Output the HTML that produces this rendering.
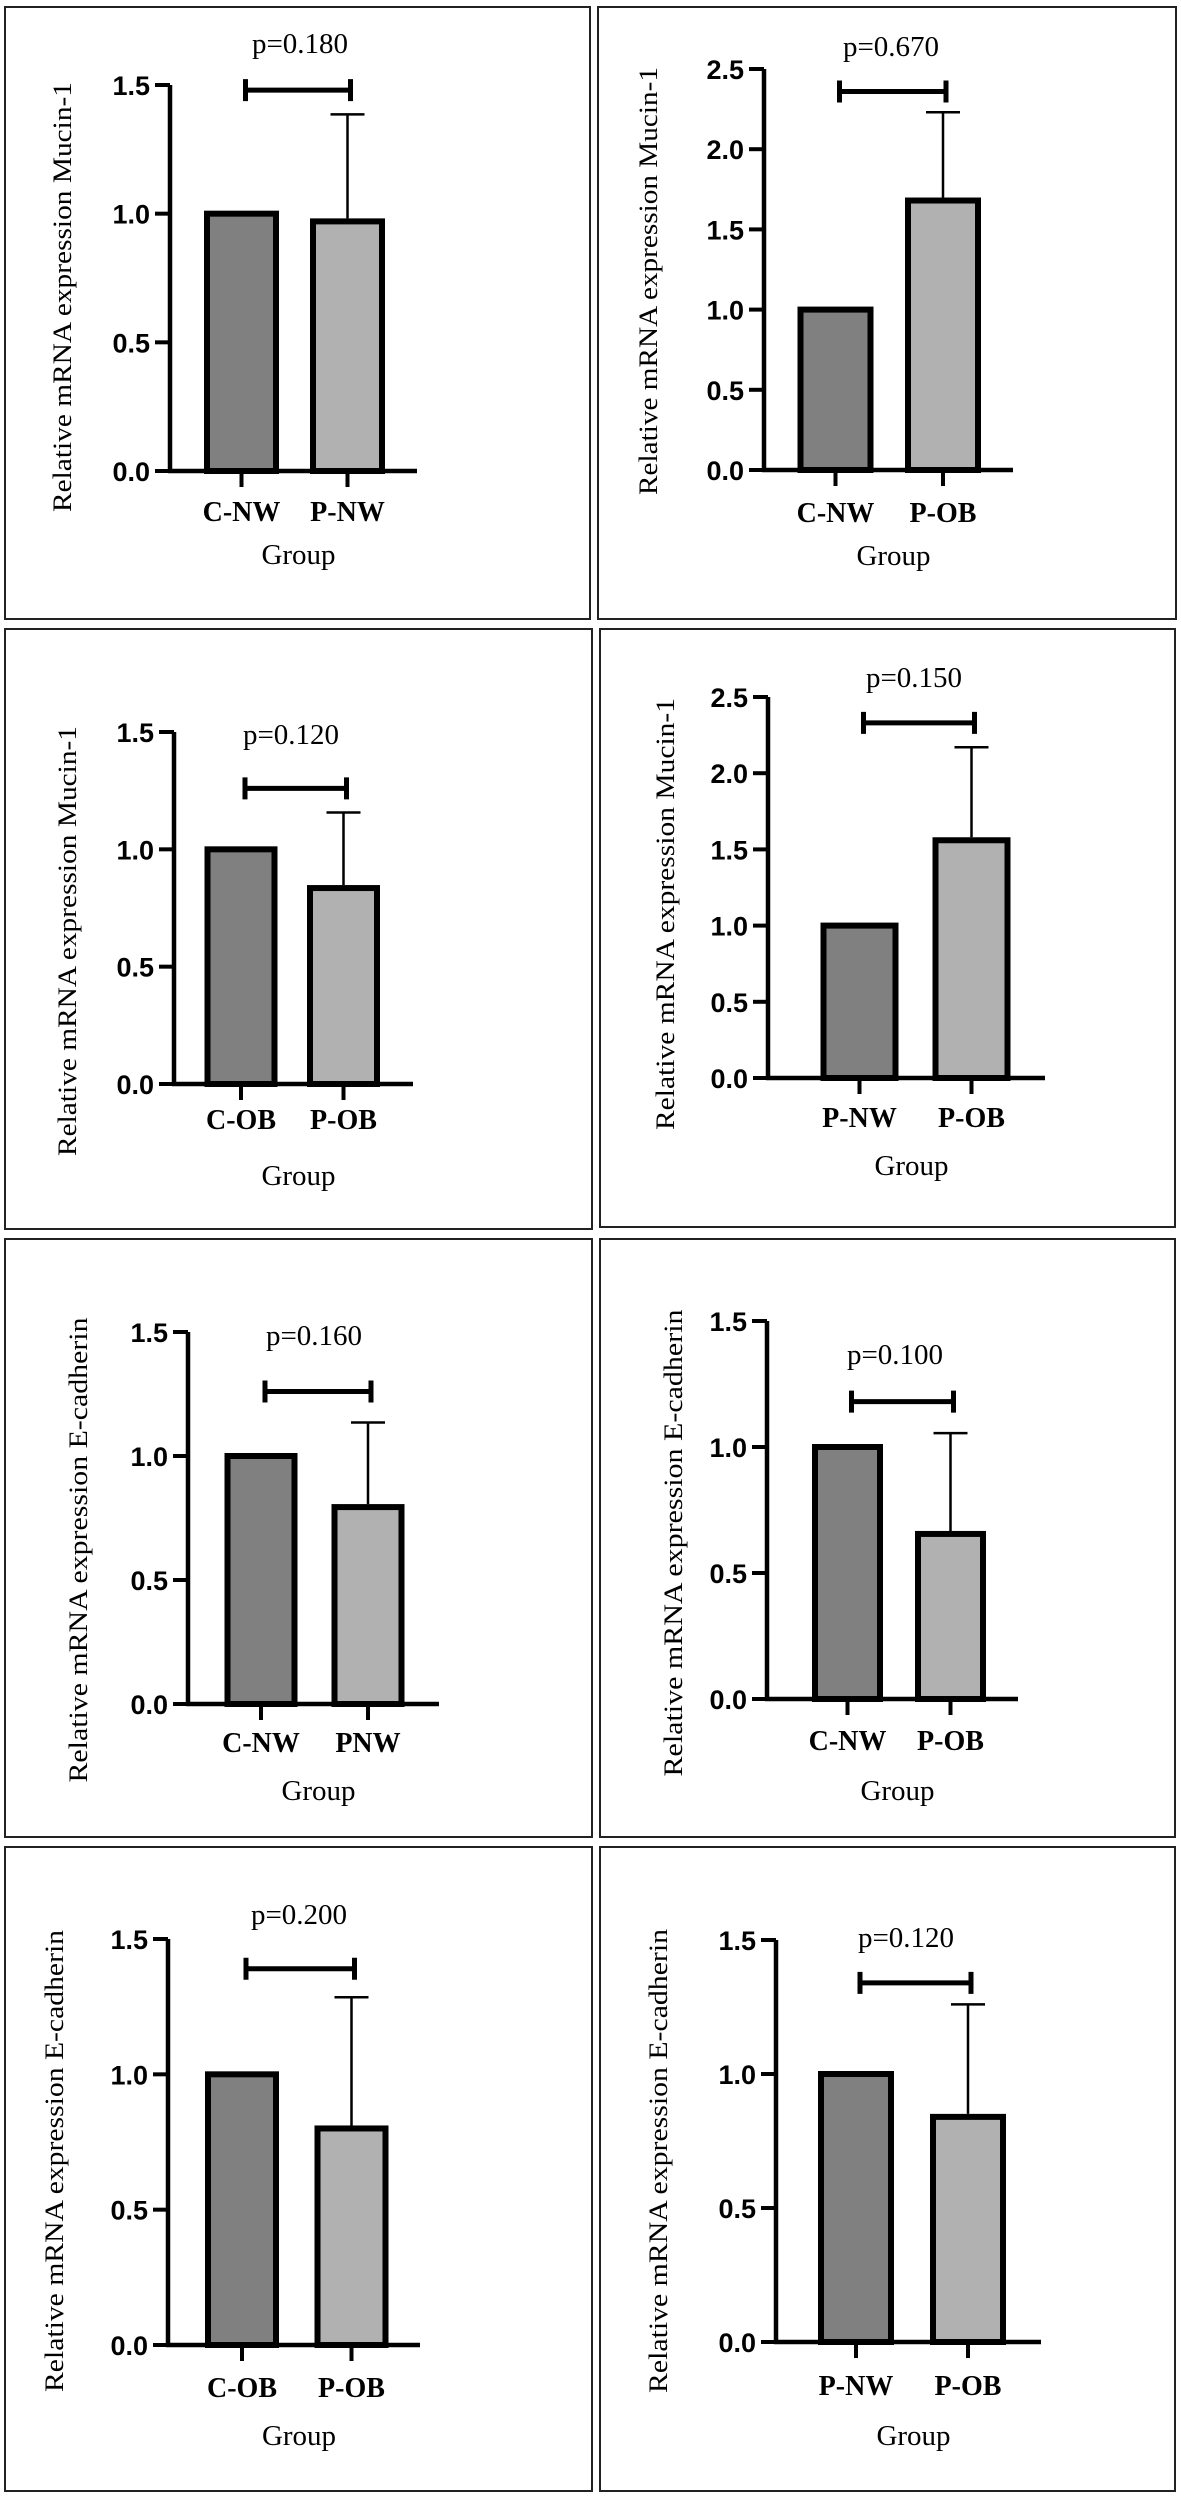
<!DOCTYPE html>
<html><head><meta charset="utf-8"><style>
html,body{margin:0;padding:0;background:#fff;}
svg{display:block;}
.tick{font-family:"Liberation Sans",sans-serif;font-weight:bold;font-size:27px;}
.cat{font-family:"Liberation Serif",serif;font-weight:bold;font-size:28px;}
.ser{font-family:"Liberation Serif",serif;font-size:29px;}
.yl{font-family:"Liberation Serif",serif;font-size:26px;}
</style></head><body>
<svg id="fig" width="1181" height="2497" viewBox="0 0 1181 2497" xmlns="http://www.w3.org/2000/svg"></svg>
<script>
// ---- data ----
const categories = [["C-NW","P-NW"],["C-NW","P-OB"],["C-OB","P-OB"],["P-NW","P-OB"],["C-NW","PNW"],["C-NW","P-OB"],["C-OB","P-OB"],["P-NW","P-OB"]];
const meansA = [1,1,1,1,1,1,1,1];
const meansB = [0.97,1.68,0.835,1.56,0.794,0.655,0.80,0.84];
const errorsB = [0.416,0.55,0.322,0.61,0.341,0.40,0.485,0.42];
const pValues = ["p=0.180","p=0.670","p=0.120","p=0.150","p=0.160","p=0.100","p=0.200","p=0.120"];
const yMaxes = [1.5,2.5,1.5,2.5,1.5,1.5,1.5,1.5];
const sigLevels = [1.48,2.36,1.26,2.33,1.26,1.18,1.39,1.34];
const yTitles = ["Relative mRNA expression Mucin-1","Relative mRNA expression Mucin-1","Relative mRNA expression Mucin-1","Relative mRNA expression Mucin-1","Relative mRNA expression E-cadherin","Relative mRNA expression E-cadherin","Relative mRNA expression E-cadherin","Relative mRNA expression E-cadherin"];

// ---- layout (pixels) ----
const layout = [
 {box:[5,7,585,612], ax:170, y0:471, yTop:85, xEnd:417, c:[241.5,347.5], bw:69, pX:300, pY:53, catY:521, gY:564, ylX:63, ylY:297, ylL:430},
 {box:[598,7,578,612], ax:764, y0:470, yTop:69, xEnd:1013, c:[835.5,943], bw:70, pX:891, pY:56, catY:522, gY:565, ylX:649, ylY:281, ylL:428},
 {box:[5,629,587,600], ax:174, y0:1084, yTop:732, xEnd:413, c:[241,343.5], bw:67, pX:291, pY:744, catY:1129, gY:1185, ylX:68, ylY:941, ylL:430},
 {box:[600,629,575,598], ax:768, y0:1078, yTop:697, xEnd:1045, c:[859.5,971.5], bw:72, pX:914, pY:687, catY:1127, gY:1175, ylX:666, ylY:914, ylL:432},
 {box:[5,1239,587,598], ax:188, y0:1704, yTop:1332, xEnd:439, c:[261,368], bw:67, pX:314, pY:1345, catY:1752, gY:1800, ylX:79, ylY:1550, ylL:465},
 {box:[600,1239,575,598], ax:767, y0:1699, yTop:1321, xEnd:1018, c:[847.5,950.5], bw:65, pX:895, pY:1364, catY:1750, gY:1800, ylX:674, ylY:1543, ylL:467},
 {box:[5,1847,587,644], ax:168, y0:2345, yTop:1939, xEnd:420, c:[242,351.5], bw:68, pX:299, pY:1924, catY:2397, gY:2445, ylX:55, ylY:2161, ylL:462},
 {box:[600,1847,575,644], ax:776, y0:2342, yTop:1940, xEnd:1041, c:[856,968], bw:70, pX:906, pY:1947, catY:2395, gY:2445, ylX:659, ylY:2161, ylL:464}
];

const NS = "http://www.w3.org/2000/svg";
const svg = document.getElementById("fig");
function mk(parent, tag, attrs, text){
  const e = document.createElementNS(NS, tag);
  for (const k in attrs) e.setAttribute(k, attrs[k]);
  if (text !== undefined) e.textContent = text;
  parent.appendChild(e);
  return e;
}

for (let i = 0; i < layout.length; i++){
  const L = layout[i];
  const yMax = yMaxes[i];
  const y = v => L.y0 - (v / yMax) * (L.y0 - L.yTop);
  const g = mk(svg, "g", {});
  
  

  const box = mk(g, "rect", {x:L.box[0], y:L.box[1], width:L.box[2], height:L.box[3], fill:"none", stroke:"#222", "stroke-width":2});
  
  

  const vals = [meansA[i], meansB[i]];
  const fills = ["#808080", "#b1b1b1"];
  for (let j = 0; j < 2; j++){
    const top = y(vals[j]);
    const b = mk(g, "rect", {x:L.c[j]-L.bw/2, y:top, width:L.bw, height:L.y0-top, fill:fills[j], stroke:"#000", "stroke-width":6});
    
    
  }
  const eTop = y(meansB[i] + errorsB[i]);
  const eb = mk(g, "path", {d:`M${L.c[1]} ${y(meansB[i])-3} V${eTop} M${L.c[1]-17} ${eTop} H${L.c[1]+17}`, stroke:"#000", "stroke-width":2.5, fill:"none"});
  
  

  const axes = mk(g, "path", {d:`M${L.ax} ${L.yTop} V${L.y0} M${L.ax-2} ${L.y0} H${L.xEnd}`, stroke:"#000", "stroke-width":4.5, fill:"none"});
  
  
  const nT = Math.round(yMax / 0.5);
  for (let t = 0; t <= nT; t++){
    const v = t * 0.5;
    const ty = y(v);
    mk(g, "line", {x1:L.ax-15, x2:L.ax, y1:ty, y2:ty, stroke:"#000", "stroke-width":4});
    const tl = mk(g, "text", {x:L.ax-20, y:ty+10, "text-anchor":"end", class:"tick"}, v.toFixed(1));
    
    
  }
  for (let j = 0; j < 2; j++){
    mk(g, "line", {x1:L.c[j], x2:L.c[j], y1:L.y0, y2:L.y0+16, stroke:"#000", "stroke-width":4});
    const cl = mk(g, "text", {x:L.c[j], y:L.catY, "text-anchor":"middle", class:"cat"}, categories[i][j]);
    
    
  }
  const sy = y(sigLevels[i]);
  const x1 = L.c[0]+4, x2 = L.c[1]+3;
  const sb = mk(g, "path", {d:`M${x1} ${sy} H${x2} M${x1} ${sy-11} V${sy+11} M${x2} ${sy-11} V${sy+11}`, stroke:"#000", "stroke-width":5, fill:"none"});
  
  
  const pt = mk(g, "text", {x:L.pX, y:L.pY, "text-anchor":"middle", class:"ser"}, pValues[i]);
  
  

  const gt = mk(g, "text", {x:(L.ax+L.xEnd)/2 + 5, y:L.gY, "text-anchor":"middle", class:"ser"}, "Group");
  
  
  const yt = mk(g, "text", {x:0, y:0, "text-anchor":"middle", class:"yl", textLength:L.ylL, lengthAdjust:"spacingAndGlyphs", transform:`translate(${L.ylX+8},${L.ylY}) rotate(-90)`}, yTitles[i]);
  
  
}
</script>
</body></html>
